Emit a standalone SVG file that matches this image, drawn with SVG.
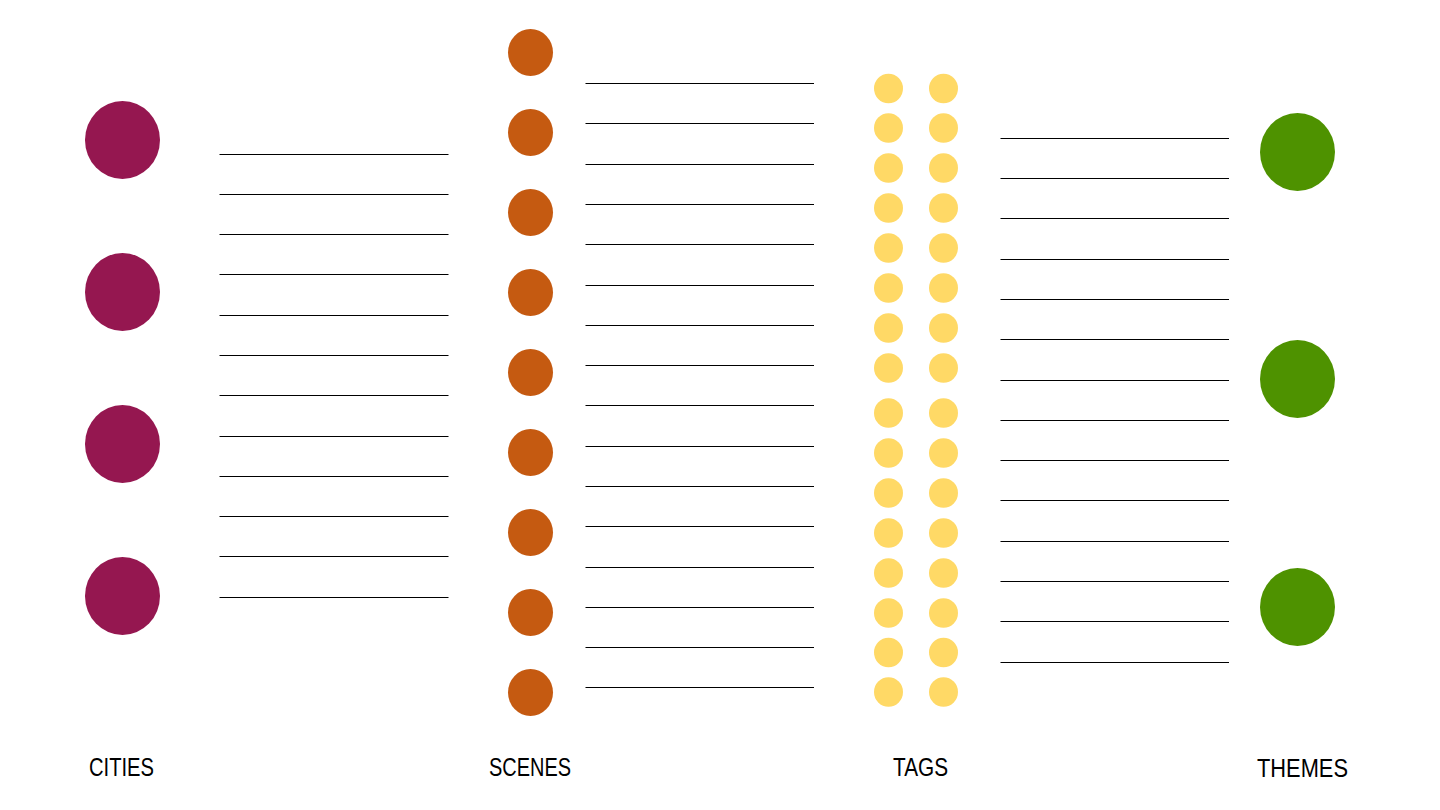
<svg xmlns="http://www.w3.org/2000/svg" width="1440" height="810" viewBox="0 0 1440 810">
<style>
.city{fill:#951750}
.scene{fill:#C55A11}
.tag{fill:#FFD966}
.theme{fill:#4E9200}
.ln{stroke:#000;stroke-width:1.2}
.lbl{font-family:"Liberation Sans Narrow","Liberation Sans",Arial,sans-serif;font-size:25px;fill:#000;text-anchor:middle}
</style>
<rect width="1440" height="810" fill="#fff"/>
<g id="cities">
<ellipse class="city" cx="122.5" cy="140" rx="37.5" ry="39"/>
<ellipse class="city" cx="122.5" cy="292" rx="37.5" ry="39"/>
<ellipse class="city" cx="122.5" cy="444" rx="37.5" ry="39"/>
<ellipse class="city" cx="122.5" cy="596" rx="37.5" ry="39"/>
</g>
<g id="scenes">
<ellipse class="scene" cx="530.5" cy="52.5" rx="22.5" ry="23.5"/>
<ellipse class="scene" cx="530.5" cy="132.5" rx="22.5" ry="23.5"/>
<ellipse class="scene" cx="530.5" cy="212.5" rx="22.5" ry="23.5"/>
<ellipse class="scene" cx="530.5" cy="292.5" rx="22.5" ry="23.5"/>
<ellipse class="scene" cx="530.5" cy="372.5" rx="22.5" ry="23.5"/>
<ellipse class="scene" cx="530.5" cy="452.5" rx="22.5" ry="23.5"/>
<ellipse class="scene" cx="530.5" cy="532.5" rx="22.5" ry="23.5"/>
<ellipse class="scene" cx="530.5" cy="612.5" rx="22.5" ry="23.5"/>
<ellipse class="scene" cx="530.5" cy="692.5" rx="22.5" ry="23.5"/>
</g>
<g id="tags">
<g id="tags-col1">
<ellipse class="tag" cx="888.5" cy="88.5" rx="14.5" ry="14.8"/>
<ellipse class="tag" cx="888.5" cy="128" rx="14.5" ry="14.8"/>
<ellipse class="tag" cx="888.5" cy="168" rx="14.5" ry="14.8"/>
<ellipse class="tag" cx="888.5" cy="208" rx="14.5" ry="14.8"/>
<ellipse class="tag" cx="888.5" cy="248" rx="14.5" ry="14.8"/>
<ellipse class="tag" cx="888.5" cy="288" rx="14.5" ry="14.8"/>
<ellipse class="tag" cx="888.5" cy="328" rx="14.5" ry="14.8"/>
<ellipse class="tag" cx="888.5" cy="368" rx="14.5" ry="14.8"/>
<ellipse class="tag" cx="888.5" cy="413" rx="14.5" ry="14.8"/>
<ellipse class="tag" cx="888.5" cy="453" rx="14.5" ry="14.8"/>
<ellipse class="tag" cx="888.5" cy="493" rx="14.5" ry="14.8"/>
<ellipse class="tag" cx="888.5" cy="533" rx="14.5" ry="14.8"/>
<ellipse class="tag" cx="888.5" cy="573" rx="14.5" ry="14.8"/>
<ellipse class="tag" cx="888.5" cy="613" rx="14.5" ry="14.8"/>
<ellipse class="tag" cx="888.5" cy="652.5" rx="14.5" ry="14.8"/>
<ellipse class="tag" cx="888.5" cy="692" rx="14.5" ry="14.8"/>
</g>
<g id="tags-col2">
<ellipse class="tag" cx="943.5" cy="88.5" rx="14.5" ry="14.8"/>
<ellipse class="tag" cx="943.5" cy="128" rx="14.5" ry="14.8"/>
<ellipse class="tag" cx="943.5" cy="168" rx="14.5" ry="14.8"/>
<ellipse class="tag" cx="943.5" cy="208" rx="14.5" ry="14.8"/>
<ellipse class="tag" cx="943.5" cy="248" rx="14.5" ry="14.8"/>
<ellipse class="tag" cx="943.5" cy="288" rx="14.5" ry="14.8"/>
<ellipse class="tag" cx="943.5" cy="328" rx="14.5" ry="14.8"/>
<ellipse class="tag" cx="943.5" cy="368" rx="14.5" ry="14.8"/>
<ellipse class="tag" cx="943.5" cy="413" rx="14.5" ry="14.8"/>
<ellipse class="tag" cx="943.5" cy="453" rx="14.5" ry="14.8"/>
<ellipse class="tag" cx="943.5" cy="493" rx="14.5" ry="14.8"/>
<ellipse class="tag" cx="943.5" cy="533" rx="14.5" ry="14.8"/>
<ellipse class="tag" cx="943.5" cy="573" rx="14.5" ry="14.8"/>
<ellipse class="tag" cx="943.5" cy="613" rx="14.5" ry="14.8"/>
<ellipse class="tag" cx="943.5" cy="652.5" rx="14.5" ry="14.8"/>
<ellipse class="tag" cx="943.5" cy="692" rx="14.5" ry="14.8"/>
</g>
</g>
<g id="themes">
<ellipse class="theme" cx="1297.5" cy="152" rx="37.5" ry="39"/>
<ellipse class="theme" cx="1297.5" cy="379" rx="37.5" ry="39"/>
<ellipse class="theme" cx="1297.5" cy="607" rx="37.5" ry="39"/>
</g>
<g id="connectors" class="ln">
<g id="lines-cities">
<line x1="219.5" y1="154.5" x2="448.5" y2="154.5"/>
<line x1="219.5" y1="194.5" x2="448.5" y2="194.5"/>
<line x1="219.5" y1="234.5" x2="448.5" y2="234.5"/>
<line x1="219.5" y1="274.5" x2="448.5" y2="274.5"/>
<line x1="219.5" y1="315.5" x2="448.5" y2="315.5"/>
<line x1="219.5" y1="355.5" x2="448.5" y2="355.5"/>
<line x1="219.5" y1="395.5" x2="448.5" y2="395.5"/>
<line x1="219.5" y1="436.5" x2="448.5" y2="436.5"/>
<line x1="219.5" y1="476.5" x2="448.5" y2="476.5"/>
<line x1="219.5" y1="516.5" x2="448.5" y2="516.5"/>
<line x1="219.5" y1="556.5" x2="448.5" y2="556.5"/>
<line x1="219.5" y1="597.5" x2="448.5" y2="597.5"/>
</g>
<g id="lines-scenes">
<line x1="585.5" y1="83.5" x2="814" y2="83.5"/>
<line x1="585.5" y1="123.5" x2="814" y2="123.5"/>
<line x1="585.5" y1="164.5" x2="814" y2="164.5"/>
<line x1="585.5" y1="204.5" x2="814" y2="204.5"/>
<line x1="585.5" y1="244.5" x2="814" y2="244.5"/>
<line x1="585.5" y1="285.5" x2="814" y2="285.5"/>
<line x1="585.5" y1="325.5" x2="814" y2="325.5"/>
<line x1="585.5" y1="365.5" x2="814" y2="365.5"/>
<line x1="585.5" y1="405.5" x2="814" y2="405.5"/>
<line x1="585.5" y1="446.5" x2="814" y2="446.5"/>
<line x1="585.5" y1="486.5" x2="814" y2="486.5"/>
<line x1="585.5" y1="526.5" x2="814" y2="526.5"/>
<line x1="585.5" y1="567.5" x2="814" y2="567.5"/>
<line x1="585.5" y1="607.5" x2="814" y2="607.5"/>
<line x1="585.5" y1="647.5" x2="814" y2="647.5"/>
<line x1="585.5" y1="687.5" x2="814" y2="687.5"/>
</g>
<g id="lines-themes">
<line x1="1000.5" y1="138.5" x2="1229" y2="138.5"/>
<line x1="1000.5" y1="178.5" x2="1229" y2="178.5"/>
<line x1="1000.5" y1="218.5" x2="1229" y2="218.5"/>
<line x1="1000.5" y1="259.5" x2="1229" y2="259.5"/>
<line x1="1000.5" y1="299.5" x2="1229" y2="299.5"/>
<line x1="1000.5" y1="339.5" x2="1229" y2="339.5"/>
<line x1="1000.5" y1="380.5" x2="1229" y2="380.5"/>
<line x1="1000.5" y1="420.5" x2="1229" y2="420.5"/>
<line x1="1000.5" y1="460.5" x2="1229" y2="460.5"/>
<line x1="1000.5" y1="500.5" x2="1229" y2="500.5"/>
<line x1="1000.5" y1="541.5" x2="1229" y2="541.5"/>
<line x1="1000.5" y1="581.5" x2="1229" y2="581.5"/>
<line x1="1000.5" y1="621.5" x2="1229" y2="621.5"/>
<line x1="1000.5" y1="662.5" x2="1229" y2="662.5"/>
</g>
</g>
<g id="labels">
<text class="lbl" x="121.5" y="776" textLength="65" lengthAdjust="spacingAndGlyphs">CITIES</text>
<text class="lbl" x="530" y="776" textLength="82" lengthAdjust="spacingAndGlyphs">SCENES</text>
<text class="lbl" x="920.5" y="776" textLength="55" lengthAdjust="spacingAndGlyphs">TAGS</text>
<text class="lbl" x="1302.5" y="777" textLength="91" lengthAdjust="spacingAndGlyphs">THEMES</text>
</g>
</svg>
